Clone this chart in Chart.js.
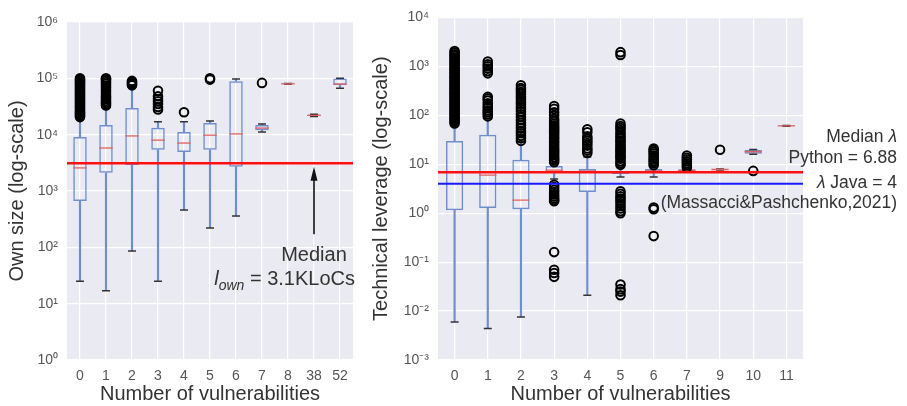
<!DOCTYPE html>
<html>
<head>
<meta charset="utf-8">
<script src="https://cdn.jsdelivr.net/npm/chart.js@4.4.1/dist/chart.umd.min.js"></script>
<style>
  body { margin: 0; background: #fff; }
  #wrap { position: relative; width: 907px; height: 406px; }
  canvas { position: absolute; top: 0; }
  #chartOwn { left: 0; }
  #chartLev { left: 360px; }
</style>
</head>
<body>
<div id="wrap">
  <canvas id="chartOwn" width="360" height="406"></canvas>
  <canvas id="chartLev" width="547" height="406"></canvas>
</div>
<script>
// Own size (LoC) per number of vulnerabilities
const ownCats  = ['0', '1', '2', '3', '4', '5', '6', '7', '8', '38', '52'];
const ownLow   = [25, 17, 86, 25, 460, 220, 360, 11200, 79000, 21000, 67000];
const ownQ1    = [665, 2100, 2900, 5400, 4900, 5400, 2700, 12000, 79300, 21400, 76000];
const ownMed   = [2570, 5800, 9500, 8000, 7100, 9800, 10300, 13100, 80000, 22000, 79000];
const ownQ3    = [9100, 14800, 29700, 13200, 11200, 16100, 89000, 14800, 80700, 22800, 99000];
const ownHigh  = [20000, 31000, 75000, 16900, 16900, 17500, 97000, 15500, 81000, 23000, 100000];
const ownFliers = [
  [20500, 21500, 22500, 23500, 24500, 25500, 27000, 28500, 30000, 31500, 33000, 35000, 37000, 39000, 41000, 43000, 45500,
   48000, 50500, 53000, 56000, 59000, 62000, 65000, 68500, 72000, 76000, 80000, 84000, 88000, 92000, 96000, 100000],
  [33000, 35000, 37000, 39000, 42000, 45000, 48000, 52000, 57000, 62000, 68000, 74000, 80000, 86000, 92000, 97000, 100000],
  [75000, 78000, 82000, 86000, 90000],
  [28000, 31000, 35000, 39000, 43000, 48000, 60000],
  [25000],
  [95000, 100000],
  [],
  [83000],
  [], [], []
];
const ownTicks = [1, 10, 100, 1000, 10000, 100000, 1000000];
const ownMedianAll = 3100;      // l_own median
const ownArrowFrom = 170;
const ownArrowTo = 2700;

// Technical leverage per number of vulnerabilities
const levCats  = ['0', '1', '2', '3', '4', '5', '6', '7', '9', '10', '11'];
const levLow   = [0.006, 0.0044, 0.0076, 5.0, 0.021, 5.5, 5.5, 7.0, 7.6, 16, 60];
const levQ1    = [1.15, 1.27, 1.2, 6.6, 2.7, 6.3, 6.8, 7.2, 7.7, 16.3, 60.5];
const levMed   = [7.0, 6.0, 1.85, 7.6, 7.2, 7.0, 7.3, 7.5, 7.8, 18, 61];
const levQ3    = [30, 40, 12.3, 9.2, 8.0, 7.3, 8.0, 7.9, 7.9, 19.7, 61.5];
const levHigh  = [64, 85, 29, 10.5, 14, 8.6, 9.0, 8.2, 8.0, 20, 62];
const levFliers = [
  [68, 74, 80, 86, 93, 100, 108, 117, 126, 136, 147, 159, 172, 186, 201, 217, 235, 254, 275, 297, 321, 347, 375, 405,
   438, 473, 511, 552, 597, 645, 697, 753, 814, 880, 951, 1030, 1110, 1200, 1300, 1400, 1520, 1640, 1770, 1910, 2060],
  [95, 105, 115, 125, 140, 155, 175, 200, 220, 240, 720, 800, 900, 1000, 1100, 1250],
  [30, 34, 38, 43, 48, 55, 62, 70, 80, 92, 105, 120, 135, 150, 170, 190, 215, 240, 270, 300, 330, 360, 410],
  [11, 12, 13, 14, 15.5, 17, 18.5, 20, 22, 24.5, 27, 30, 33, 36, 40, 44, 48, 52, 56, 62, 68, 76, 85, 100, 115, 135, 155,
   3.8, 3.4, 3.0, 2.7, 2.4, 2.2, 2.0, 1.85, 1.75, 0.16, 0.07, 0.06, 0.05],
  [17, 19, 21, 24, 27, 30, 33, 37, 45, 52],
  [9.7, 10.5, 11.5, 13, 14, 15, 16.5, 18, 19.5, 21, 23, 25, 28, 30, 33, 36, 40, 44, 50, 55, 60, 68, 1700, 1950,
   2.8, 2.5, 2.2, 2.0, 1.8, 1.6, 1.4, 1.25, 1.1, 1.0, 0.035, 0.028, 0.025, 0.021],
  [9.5, 10.5, 11.5, 12.5, 13.5, 15, 16.5, 18, 19.5, 21, 1.2, 1.3, 0.34],
  [8.6, 9.5, 10.5, 11.5, 12.5, 13.5, 15],
  [19.7],
  [7.3],
  []
];
const levTicks = [0.001, 0.01, 0.1, 1, 10, 100, 1000, 10000];
const levPython = 6.88;
const levJava = 4;

const FONT = '"Liberation Sans", Arial, sans-serif';
const BLUE = '#6f8fcc';
const MED_RED = '#e0605e';
const SUP = { '0': '⁰', '1': '¹', '2': '²', '3': '³', '4': '⁴', '5': '⁵', '6': '⁶', '7': '⁷', '8': '⁸', '9': '⁹', '-': '⁻' };

function powLabel(v) {
  const e = Math.round(Math.log10(v));
  return '10' + String(e).split('').map(c => SUP[c]).join('');
}

// draws text made of pieces with different fonts / offsets
function richText(ctx, parts, x, y, align) {
  let w = 0;
  parts.forEach(p => { ctx.font = p[1]; w += ctx.measureText(p[0]).width; });
  let cx = align === 'right' ? x - w : align === 'center' ? x - w / 2 : x;
  ctx.textAlign = 'left';
  ctx.textBaseline = 'alphabetic';
  parts.forEach(p => {
    ctx.font = p[1];
    ctx.fillText(p[0], cx, y + (p[2] || 0));
    cx += ctx.measureText(p[0]).width;
  });
}

function hLine(ctx, a, y, color, width) {
  ctx.strokeStyle = color;
  ctx.lineWidth = width;
  ctx.beginPath();
  ctx.moveTo(a.left, y);
  ctx.lineTo(a.right, y);
  ctx.stroke();
}

const bgPlugin = {
  id: 'bg',
  beforeDraw(chart) {
    const { ctx, chartArea: a } = chart;
    ctx.save();
    ctx.fillStyle = '#eaeaf2';
    ctx.fillRect(a.left, a.top, a.width, a.height);
    ctx.restore();
  }
};

function boxChart(canvasId, cats, lo, q1, med, q3, hi, fliers, yTicks, yTitle, layout, overlay) {
  const pts = vals => vals.map((v, i) => ({ x: cats[i], y: v }));
  const flierPts = [];
  fliers.forEach((list, i) => list.forEach(v => flierPts.push({ x: cats[i], y: v })));
  const halfBox = ctx => ctx.chart.scales.x.width / cats.length * 0.26;

  return new Chart(document.getElementById(canvasId), {
    type: 'bar',
    data: {
      labels: cats,
      datasets: [
        { type: 'line', label: 'fliers', data: flierPts, showLine: false, pointStyle: 'circle',
          pointRadius: 4.3, pointBorderWidth: 2, pointBorderColor: '#000', pointBackgroundColor: 'rgba(0,0,0,0)' },
        { type: 'line', label: 'median', data: pts(med), showLine: false, pointStyle: 'line',
          pointRadius: halfBox, pointBorderWidth: 1.3, pointBorderColor: MED_RED },
        { type: 'line', label: 'caps', data: pts(lo).concat(pts(hi)), showLine: false, pointStyle: 'line',
          pointRadius: 4, pointBorderWidth: 1.5, pointBorderColor: '#333' },
        { label: 'box', data: cats.map((c, i) => [q1[i], q3[i]]), backgroundColor: 'rgba(0,0,0,0)',
          borderColor: BLUE, borderWidth: 1.5, borderSkipped: false, barPercentage: 0.52,
          categoryPercentage: 1, grouped: false },
        { label: 'upper whisker', data: cats.map((c, i) => [q3[i], hi[i]]), backgroundColor: BLUE,
          barThickness: 1.5, grouped: false },
        { label: 'lower whisker', data: cats.map((c, i) => [lo[i], q1[i]]), backgroundColor: BLUE,
          barThickness: 1.5, grouped: false }
      ]
    },
    options: {
      responsive: false,
      maintainAspectRatio: false,
      animation: false,
      layout: { padding: layout.padding },
      plugins: { legend: { display: false }, tooltip: { enabled: false } },
      scales: {
        x: {
          offset: true,
          grid: { color: '#fff', lineWidth: 1.2, offset: false, drawTicks: false },
          border: { display: false },
          ticks: { color: '#555', font: { family: FONT, size: 14 }, padding: 8 },
          title: { display: true, text: 'Number of vulnerabilities', color: '#333',
                   font: { family: FONT, size: 20 }, padding: 0 },
          afterFit: s => { s.height = 46; }
        },
        y: {
          type: 'logarithmic',
          min: yTicks[0],
          max: yTicks[yTicks.length - 1],
          afterBuildTicks: s => { s.ticks = yTicks.map(v => ({ value: v })); },
          grid: { color: '#fff', lineWidth: 1.2, drawTicks: false },
          border: { display: false },
          ticks: { color: '#555', font: { family: FONT, size: 14 }, padding: 9, callback: v => powLabel(v) },
          title: { display: true, text: yTitle, color: '#333', font: { family: FONT, size: 20 },
                   padding: { top: layout.titlePad, bottom: 0 } },
          afterFit: s => { s.width = layout.yWidth; }
        }
      }
    },
    plugins: [bgPlugin, { id: 'overlay', afterDatasetsDraw: overlay }]
  });
}

// left panel: median line, arrow and label
function ownOverlay(chart) {
  const { ctx, chartArea: a, scales: { x, y } } = chart;
  ctx.save();
  const yMed = y.getPixelForValue(ownMedianAll);
  hLine(ctx, a, yMed, '#ff1010', 2.5);

  const ax = x.getPixelForValue(ownCats.indexOf('38'));
  const yTail = y.getPixelForValue(ownArrowFrom);
  const yHead = y.getPixelForValue(ownArrowTo);
  ctx.strokeStyle = '#111';
  ctx.fillStyle = '#111';
  ctx.lineWidth = 1.6;
  ctx.beginPath();
  ctx.moveTo(ax, yTail);
  ctx.lineTo(ax, yHead + 12);
  ctx.stroke();
  ctx.beginPath();
  ctx.moveTo(ax, yHead);
  ctx.lineTo(ax - 3.5, yHead + 14);
  ctx.lineTo(ax + 3.5, yHead + 14);
  ctx.closePath();
  ctx.fill();

  ctx.fillStyle = '#333';
  richText(ctx, [['Median', '20px ' + FONT]], ax, yTail + 27, 'center');
  richText(ctx, [
    ['l', 'italic 20px ' + FONT],
    ['own', 'italic 14px ' + FONT, 5],
    [' = 3.1KLoCs', '20px ' + FONT]
  ], chart.width - 5, yTail + 51, 'right');
  ctx.restore();
}

// right panel: Python / Java median lines and labels
function levOverlay(chart) {
  const { ctx, chartArea: a, scales: { y } } = chart;
  ctx.save();
  const yPy = y.getPixelForValue(levPython);
  const yJava = y.getPixelForValue(levJava);
  hLine(ctx, a, yPy, '#ff1010', 2.5);
  hLine(ctx, a, yJava, '#1a1aff', 2);

  const f = '17.5px ' + FONT, fi = 'italic 17.5px ' + FONT;
  const xr = chart.width - 10;
  ctx.fillStyle = '#333';
  richText(ctx, [['Median ', f], ['λ', fi]], xr, yPy - 30, 'right');
  richText(ctx, [['Python = 6.88', f]], xr, yPy - 9, 'right');
  richText(ctx, [['λ', fi], [' Java = 4', f]], xr, yJava + 4, 'right');
  richText(ctx, [['(Massacci&Pashchenko,2021)', f]], xr, yJava + 24, 'right');
  ctx.restore();
}

boxChart('chartOwn', ownCats, ownLow, ownQ1, ownMed, ownQ3, ownHigh, ownFliers, ownTicks,
  'Own size (log-scale)',
  { padding: { left: 0, right: 7, top: 22, bottom: 0 }, yWidth: 67, titlePad: 5 },
  ownOverlay);

boxChart('chartLev', levCats, levLow, levQ1, levMed, levQ3, levHigh, levFliers, levTicks,
  'Technical leverage (log-scale)',
  { padding: { left: 0, right: 104, top: 17, bottom: 0 }, yWidth: 78, titlePad: 9 },
  levOverlay);
</script>
</body>
</html>
